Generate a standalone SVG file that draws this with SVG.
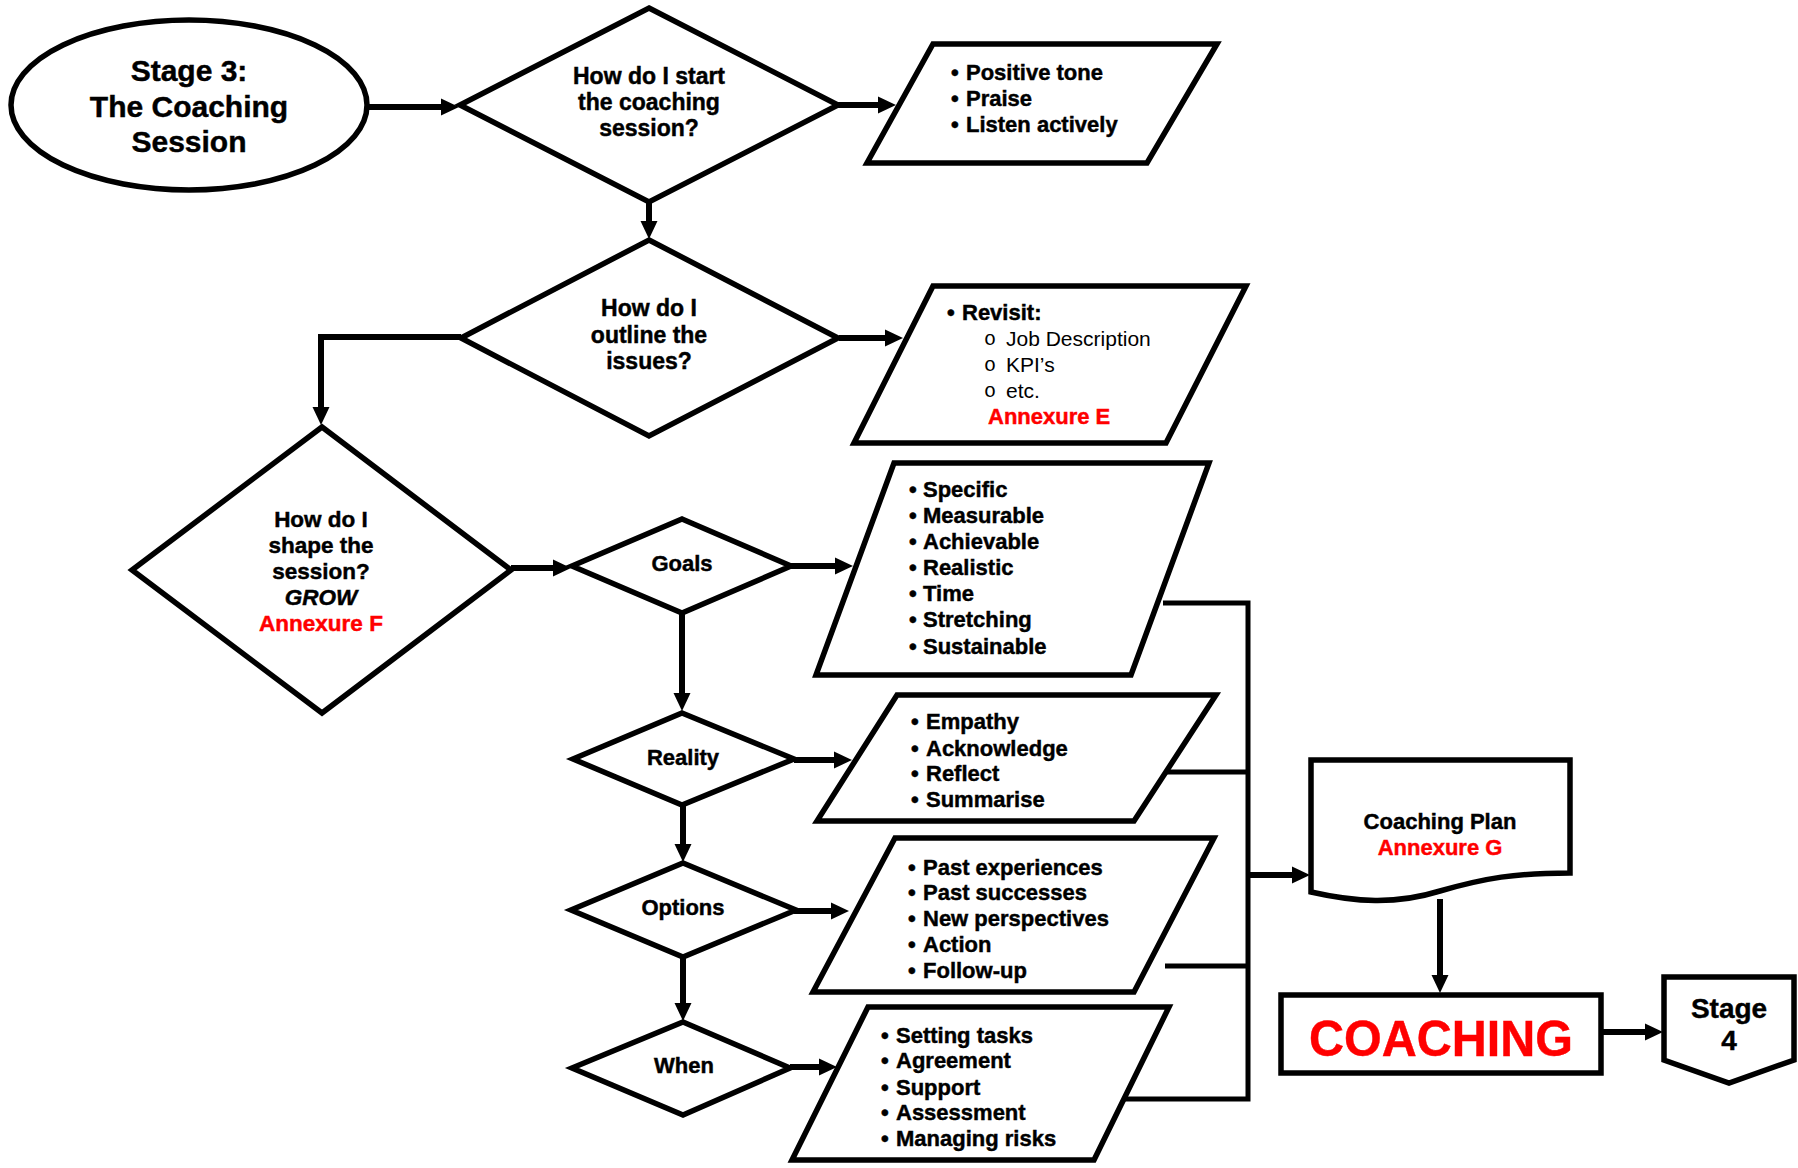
<svg xmlns="http://www.w3.org/2000/svg" width="1798" height="1168" viewBox="0 0 1798 1168">
<defs>
<style>
.s{fill:#fff;stroke:#000;stroke-width:5.5;stroke-linejoin:miter}
.c{fill:none;stroke:#000;stroke-width:6}
.b{fill:none;stroke:#000;stroke-width:5}
text{font-family:"Liberation Sans",Arial,sans-serif;font-weight:bold;fill:#000;stroke:#000;stroke-width:0.45}
.t{font-size:22px;text-anchor:middle}
.t3{font-size:23px}
.l{font-size:22px}
.r{fill:#f00;stroke:#f00}
.n{font-weight:normal;stroke:none}
.o{font-family:"Liberation Mono",monospace;font-weight:normal;font-size:20px;stroke:none}
</style>
<marker id="ah" markerUnits="userSpaceOnUse" markerWidth="18" markerHeight="18" refX="5" refY="9" orient="auto">
<path d="M0,0.5 L18,9 L0,17.5 z" fill="#000"/>
</marker>
</defs>
<rect width="1798" height="1168" fill="#fff"/>

<g id="connectors">
<path class="c" d="M367,107 H446" marker-end="url(#ah)"/>
<path class="c" d="M838,105 H883" marker-end="url(#ah)"/>
<path class="c" d="M649,202 V226" marker-end="url(#ah)"/>
<path class="c" d="M839,338 H890" marker-end="url(#ah)"/>
<path class="c" d="M461,337 H321 V412" marker-end="url(#ah)"/>
<path class="c" d="M511,568 H558" marker-end="url(#ah)"/>
<path class="c" d="M791,566 H840" marker-end="url(#ah)"/>
<path class="c" d="M682,613 V698" marker-end="url(#ah)"/>
<path class="c" d="M794,760 H839" marker-end="url(#ah)"/>
<path class="c" d="M683,805 V849" marker-end="url(#ah)"/>
<path class="c" d="M794,911 H836" marker-end="url(#ah)"/>
<path class="c" d="M683,957 V1008" marker-end="url(#ah)"/>
<path class="c" d="M790,1067 H824" marker-end="url(#ah)"/>
<path class="b" d="M1163,603 H1248 V1099 H1124"/>
<path class="b" d="M1163,772 H1248"/>
<path class="b" d="M1165,966 H1248"/>
<path class="c" d="M1248,875 H1297" marker-end="url(#ah)"/>
<path class="c" d="M1440,899 V980" marker-end="url(#ah)"/>
<path class="c" d="M1601,1032 H1650" marker-end="url(#ah)"/>
</g>

<g id="start">
<ellipse class="s" cx="189" cy="105" rx="178" ry="85"/>
<text style="font-size:30px" text-anchor="middle"><tspan x="189" y="81">Stage 3:</tspan><tspan x="189" y="117">The Coaching</tspan><tspan x="189" y="152">Session</tspan></text>
</g>

<g id="d1">
<path class="s" d="M649,8 L838,105 L649,202 L460,105 Z"/>
<text class="t t3"><tspan x="649" y="84">How do I start</tspan><tspan x="649" y="110">the coaching</tspan><tspan x="649" y="136">session?</tspan></text>
</g>

<g id="p1">
<path class="s" d="M933,44 H1217 L1147,163 H867 Z"/>
<text class="l"><tspan x="951" y="80">•</tspan><tspan x="966">Positive tone</tspan><tspan x="951" y="106">•</tspan><tspan x="966">Praise</tspan><tspan x="951" y="132">•</tspan><tspan x="966">Listen actively</tspan></text>
</g>

<g id="d2">
<path class="s" d="M649,240 L838,338 L649,436 L461,338 Z"/>
<text class="t t3"><tspan x="649" y="316">How do I</tspan><tspan x="649" y="343">outline the</tspan><tspan x="649" y="369">issues?</tspan></text>
</g>

<g id="p2">
<path class="s" d="M933,286 H1246 L1166,443 H854 Z"/>
<text class="l"><tspan x="947" y="320">•</tspan><tspan x="962">Revisit:</tspan></text>
<text class="o"><tspan x="984" y="345">o</tspan><tspan x="984" y="371">o</tspan><tspan x="984" y="397">o</tspan></text>
<text class="l n" style="font-size:21px"><tspan x="1006" y="346">Job Description</tspan><tspan x="1006" y="372">KPI’s</tspan><tspan x="1006" y="398">etc.</tspan></text>
<text class="l r" x="988" y="424">Annexure E</text>
</g>

<g id="d3">
<path class="s" d="M322,427 L511,570 L322,713 L132,570 Z"/>
<text class="t" style="font-size:22.5px"><tspan x="321" y="527">How do I</tspan><tspan x="321" y="553">shape the</tspan><tspan x="321" y="579">session?</tspan><tspan x="321" y="605" font-style="italic">GROW</tspan><tspan x="321" y="631" class="r">Annexure F</tspan></text>
</g>

<g id="goals">
<path class="s" d="M682,519 L791,566 L682,613 L572,566 Z"/>
<text class="t" x="682" y="571">Goals</text>
</g>

<g id="p3">
<path class="s" d="M894,463 H1209 L1131,675 H816 Z"/>
<text class="l"><tspan x="909" y="497">•</tspan><tspan x="923">Specific</tspan><tspan x="909" y="523">•</tspan><tspan x="923">Measurable</tspan><tspan x="909" y="549">•</tspan><tspan x="923">Achievable</tspan><tspan x="909" y="575">•</tspan><tspan x="923">Realistic</tspan><tspan x="909" y="601">•</tspan><tspan x="923">Time</tspan><tspan x="909" y="627">•</tspan><tspan x="923">Stretching</tspan><tspan x="909" y="654">•</tspan><tspan x="923">Sustainable</tspan></text>
</g>

<g id="reality">
<path class="s" d="M682,713 L794,759 L682,805 L573,759 Z"/>
<text class="t" x="683" y="765">Reality</text>
</g>

<g id="p4">
<path class="s" d="M897,695 H1216 L1134,821 H817 Z"/>
<text class="l"><tspan x="911" y="729">•</tspan><tspan x="926">Empathy</tspan><tspan x="911" y="756">•</tspan><tspan x="926">Acknowledge</tspan><tspan x="911" y="781">•</tspan><tspan x="926">Reflect</tspan><tspan x="911" y="807">•</tspan><tspan x="926">Summarise</tspan></text>
</g>

<g id="options">
<path class="s" d="M683,863 L796,910 L683,957 L571,910 Z"/>
<text class="t" x="683" y="915">Options</text>
</g>

<g id="p5">
<path class="s" d="M895,838 H1214 L1134,992 H813 Z"/>
<text class="l"><tspan x="908" y="875">•</tspan><tspan x="923">Past experiences</tspan><tspan x="908" y="900">•</tspan><tspan x="923">Past successes</tspan><tspan x="908" y="926">•</tspan><tspan x="923">New perspectives</tspan><tspan x="908" y="952">•</tspan><tspan x="923">Action</tspan><tspan x="908" y="978">•</tspan><tspan x="923">Follow-up</tspan></text>
</g>

<g id="when">
<path class="s" d="M683,1022 L790,1068 L683,1115 L572,1068 Z"/>
<text class="t" x="684" y="1073">When</text>
</g>

<g id="p6">
<path class="s" d="M868,1007 H1169 L1094,1160 H792 Z"/>
<text class="l"><tspan x="881" y="1043">•</tspan><tspan x="896">Setting tasks</tspan><tspan x="881" y="1068">•</tspan><tspan x="896">Agreement</tspan><tspan x="881" y="1095">•</tspan><tspan x="896">Support</tspan><tspan x="881" y="1120">•</tspan><tspan x="896">Assessment</tspan><tspan x="881" y="1146">•</tspan><tspan x="896">Managing risks</tspan></text>
</g>

<g id="plan">
<path class="s" d="M1311,760 H1570 V873 C1515,873 1485,878 1440,891 C1395,905 1355,902 1311,892 Z"/>
<text class="t"><tspan x="1440" y="829">Coaching Plan</tspan><tspan x="1440" y="855" class="r">Annexure G</tspan></text>
</g>

<g id="coaching">
<rect class="s" x="1281" y="995" width="320" height="78"/>
<text class="r" x="1441" y="1056" text-anchor="middle" style="font-size:50px" textLength="264" lengthAdjust="spacingAndGlyphs">COACHING</text>
</g>

<g id="stage4">
<path class="s" d="M1664,977 H1794 V1060 L1729,1083 L1664,1060 Z"/>
<text style="font-size:28px" text-anchor="middle"><tspan x="1729" y="1018">Stage</tspan><tspan x="1729" y="1050">4</tspan></text>
</g>
</svg>
